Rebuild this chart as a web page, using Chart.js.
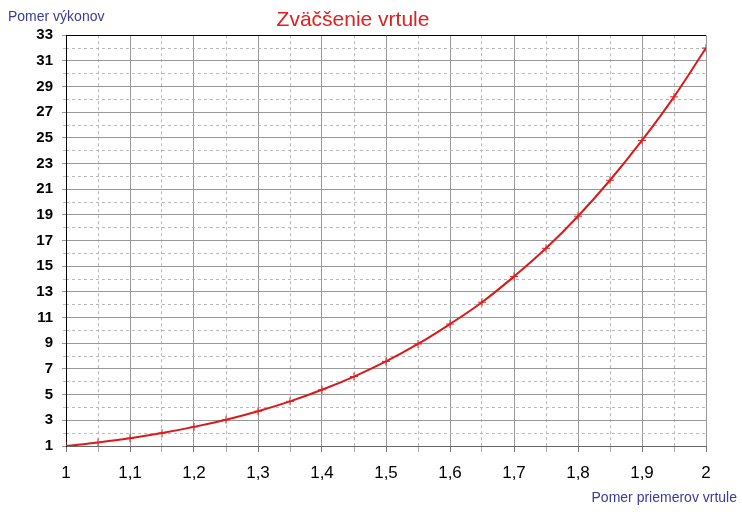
<!DOCTYPE html>
<html>
<head>
<meta charset="utf-8">
<title>Zväčšenie vrtule</title>
<script src="https://cdn.jsdelivr.net/npm/chart.js@4/dist/chart.umd.min.js"></script>
<style>
  html, body { margin: 0; padding: 0; background: #fff; }
  #wrap { width: 742px; height: 517px; }
</style>
</head>
<body>
<div id="wrap"><canvas id="chart" width="742" height="517"></canvas></div>
<script>
// pomer priemerov (x) a pomer výkonov (y), odčítané z grafu
var ratios = [1, 1.05, 1.1, 1.15, 1.2, 1.25, 1.3, 1.35, 1.4, 1.45, 1.5,
              1.55, 1.6, 1.65, 1.7, 1.75, 1.8, 1.85, 1.9, 1.95, 2];
var power = [1.0, 1.28, 1.61, 2.01, 2.49, 3.05, 3.71, 4.48, 5.38, 6.41, 7.59,
             8.95, 10.5, 12.2, 14.2, 16.4, 18.9, 21.7, 24.8, 28.2, 32.0];

var titleText = 'Zväčšenie vrtule';
var yTitle = 'Pomer výkonov';
var xTitle = 'Pomer priemerov vrtule';

var xMin = 1, xMax = 2, xMajor = 0.1, xMinor = 0.05;
var yMin = 1, yMax = 33, yMajor = 2, yMinor = 1;

var fontFamily = '"Liberation Sans", Arial, sans-serif';

function fmt(v) {
  return String(Math.round(v * 10) / 10).replace('.', ',');
}
function isMajorX(v) {
  return Math.abs(v * 10 - Math.round(v * 10)) < 1e-6;
}
function isMajorY(v) {
  return Math.round(v) % 2 === 1;
}

var points = ratios.map(function (r, i) { return { x: r, y: power[i] }; });

// popisy osí v rohoch grafu
var axisTitles = {
  id: 'axisTitles',
  afterDraw: function (chart) {
    var ctx = chart.ctx;
    ctx.save();
    ctx.font = '14px ' + fontFamily;
    ctx.fillStyle = '#3a3a9a';
    ctx.textBaseline = 'middle';
    ctx.textAlign = 'left';
    ctx.fillText(yTitle, 8, 17);
    ctx.textAlign = 'right';
    ctx.fillText(xTitle, 737, 498);
    ctx.restore();
  }
};

new Chart(document.getElementById('chart').getContext('2d'), {
  type: 'line',
  data: {
    datasets: [{
      data: points,
      borderColor: '#d81a1a',
      backgroundColor: '#d81a1a',
      borderWidth: 2,
      tension: 0.4,
      pointStyle: 'cross',
      pointRadius: 4,
      pointBorderWidth: 1,
      pointBorderColor: '#e02020',
      fill: false
    }]
  },
  options: {
    responsive: false,
    animation: false,
    layout: { padding: { left: 0, right: 36, top: 0, bottom: 0 } },
    plugins: {
      legend: { display: false },
      tooltip: { enabled: false },
      title: {
        display: true,
        text: titleText,
        color: '#e02020',
        font: { family: fontFamily, size: 21, weight: 'normal', lineHeight: 1.2 },
        padding: { top: 8, bottom: 2 }
      }
    },
    scales: {
      x: {
        type: 'linear',
        position: 'bottom',
        min: xMin,
        max: xMax,
        afterFit: function (s) { s.height = 71; },
        ticks: {
          stepSize: xMajor,
          color: '#000',
          font: { family: fontFamily, size: 17 },
          padding: 11,
          maxRotation: 0,
          autoSkip: false,
          callback: function (v) { return fmt(v); }
        },
        grid: { color: '#999', tickLength: 6, tickColor: '#777' },
        border: { color: '#666', width: 1 }
      },
      x2: {
        type: 'linear',
        position: 'bottom',
        weight: -1,
        min: xMin,
        max: xMax,
        afterFit: function (s) { s.height = 0; },
        ticks: { stepSize: xMinor, display: false, autoSkip: false },
        grid: {
          color: function (c) { return isMajorX(c.tick.value) ? 'rgba(0,0,0,0)' : '#b8b8b8'; },
          tickColor: function (c) { return isMajorX(c.tick.value) ? 'rgba(0,0,0,0)' : '#aaa'; },
          tickLength: 6
        },
        border: { display: false, dash: [3, 3] }
      },
      y: {
        type: 'linear',
        position: 'left',
        min: yMin,
        max: yMax,
        afterFit: function (s) { s.width = 66; },
        ticks: {
          stepSize: yMajor,
          color: '#000',
          font: { family: fontFamily, size: 15, weight: 'bold' },
          padding: 9,
          autoSkip: false,
          callback: function (v) { return fmt(v); }
        },
        grid: {
          color: function (c) { return c.tick.value === yMax ? '#000' : '#999'; },
          tickColor: '#999',
          tickLength: 4
        },
        border: { color: '#000', width: 1 }
      },
      y2: {
        type: 'linear',
        position: 'left',
        weight: -1,
        min: yMin,
        max: yMax,
        afterFit: function (s) { s.width = 0; },
        ticks: { stepSize: yMinor, display: false, autoSkip: false },
        grid: {
          color: function (c) { return isMajorY(c.tick.value) ? 'rgba(0,0,0,0)' : '#b8b8b8'; },
          tickColor: function (c) { return isMajorY(c.tick.value) ? 'rgba(0,0,0,0)' : '#bbb'; },
          tickLength: 3
        },
        border: { display: false, dash: [3, 3] }
      }
    }
  },
  plugins: [axisTitles]
});
</script>
</body>
</html>
